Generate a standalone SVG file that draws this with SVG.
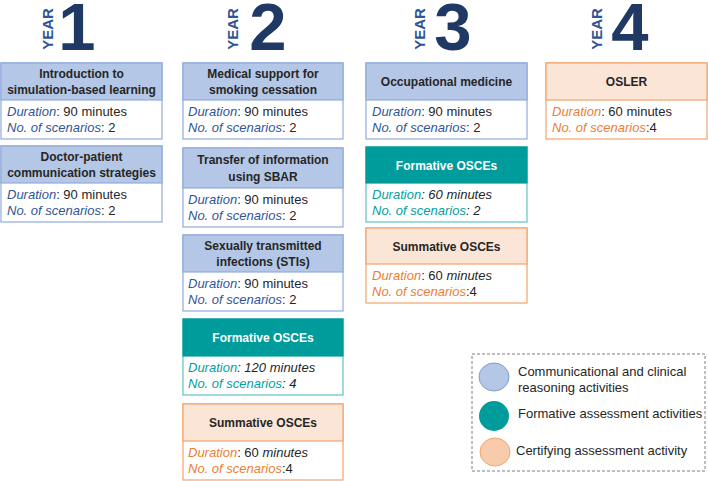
<svg xmlns="http://www.w3.org/2000/svg" width="708" height="481" viewBox="0 0 708 481">
<style>
text{font-family:"Liberation Sans",Arial,sans-serif}
.num{font-size:67px;font-weight:bold;fill:#1f3864;text-anchor:middle}
.yr{font-size:15px;font-weight:bold;fill:#2f5597;text-anchor:middle}
.hd{font-size:12px;font-weight:bold;fill:#262626;text-anchor:middle}
.hdw{font-size:12px;font-weight:bold;fill:#ffffff;text-anchor:middle}
.bd{font-size:13px;fill:#262626}
.bd .l{font-style:italic}
.blue .l{fill:#2f5597}
.teal .l{fill:#00a0a0}
.org .l{fill:#ed7d31}
.i{font-style:italic}
.bx-b{fill:#fff;stroke:#8faadc;stroke-width:1.2}
.hb-b{fill:#b4c7e7;stroke:#8faadc;stroke-width:1.2}
.bx-t{fill:#fff;stroke:#5ec4c4;stroke-width:1.2}
.hb-t{fill:#009b9b;stroke:#009b9b;stroke-width:1.2}
.bx-o{fill:#fff;stroke:#f4a46c;stroke-width:1.2}
.hb-o{fill:#fbe5d6;stroke:#f4a46c;stroke-width:1.2}
.lg{font-size:13px;fill:#262626}
</style>
<rect width="708" height="481" fill="#fff"/>

<g id="year1-title">
<text class="yr" transform="translate(53,29) rotate(-90)">YEAR</text>
<text class="num" x="77" y="50">1</text>
</g>
<g id="year2-title">
<text class="yr" transform="translate(238,29) rotate(-90)">YEAR</text>
<text class="num" x="268" y="50">2</text>
</g>
<g id="year3-title">
<text class="yr" transform="translate(425,29) rotate(-90)">YEAR</text>
<text class="num" x="453" y="50">3</text>
</g>
<g id="year4-title">
<text class="yr" transform="translate(602,29) rotate(-90)">YEAR</text>
<text class="num" x="630" y="50">4</text>
</g>

<g id="y1-intro" class="blue">
<rect class="bx-b" x="1" y="63" width="161" height="76"/>
<rect class="hb-b" x="1" y="63" width="161" height="37"/>
<text class="hd" x="81.5" y="78">Introduction to</text>
<text class="hd" x="81.5" y="94">simulation-based learning</text>
<text class="bd" x="7" y="116"><tspan class="l">Duration</tspan>: 90 minutes</text>
<text class="bd" x="7" y="132"><tspan class="l">No. of scenarios</tspan>: 2</text>
</g>
<g id="y1-comm" class="blue">
<rect class="bx-b" x="1" y="146" width="161" height="76"/>
<rect class="hb-b" x="1" y="146" width="161" height="37"/>
<text class="hd" x="81.5" y="161">Doctor-patient</text>
<text class="hd" x="81.5" y="177">communication strategies</text>
<text class="bd" x="7" y="199"><tspan class="l">Duration</tspan>: 90 minutes</text>
<text class="bd" x="7" y="215"><tspan class="l">No. of scenarios</tspan>: 2</text>
</g>

<g id="y2-smoking" class="blue">
<rect class="bx-b" x="183" y="63" width="160" height="76"/>
<rect class="hb-b" x="183" y="63" width="160" height="37"/>
<text class="hd" x="263" y="78">Medical support for</text>
<text class="hd" x="263" y="94">smoking cessation</text>
<text class="bd" x="188" y="116"><tspan class="l">Duration</tspan>: 90 minutes</text>
<text class="bd" x="188" y="132"><tspan class="l">No. of scenarios</tspan>: 2</text>
</g>
<g id="y2-sbar" class="blue">
<rect class="bx-b" x="183" y="148" width="160" height="79"/>
<rect class="hb-b" x="183" y="148" width="160" height="40"/>
<text class="hd" x="263" y="164">Transfer of information</text>
<text class="hd" x="263" y="181">using SBAR</text>
<text class="bd" x="188" y="204"><tspan class="l">Duration</tspan>: 90 minutes</text>
<text class="bd" x="188" y="220"><tspan class="l">No. of scenarios</tspan>: 2</text>
</g>
<g id="y2-sti" class="blue">
<rect class="bx-b" x="183" y="235" width="160" height="76"/>
<rect class="hb-b" x="183" y="235" width="160" height="37"/>
<text class="hd" x="263" y="250">Sexually transmitted</text>
<text class="hd" x="263" y="266">infections (STIs)</text>
<text class="bd" x="188" y="288"><tspan class="l">Duration</tspan>: 90 minutes</text>
<text class="bd" x="188" y="304"><tspan class="l">No. of scenarios</tspan>: 2</text>
</g>
<g id="y2-formative" class="teal">
<rect class="bx-t" x="183" y="319" width="160" height="76"/>
<rect class="hb-t" x="183" y="319" width="160" height="37"/>
<text class="hdw" x="263" y="342">Formative OSCEs</text>
<text class="bd i" x="188" y="372"><tspan class="l">Duration</tspan>: 120 minutes</text>
<text class="bd i" x="188" y="388"><tspan class="l">No. of scenarios</tspan>: 4</text>
</g>
<g id="y2-summative" class="org">
<rect class="bx-o" x="183" y="404" width="160" height="76"/>
<rect class="hb-o" x="183" y="404" width="160" height="37"/>
<text class="hd" x="263" y="427">Summative OSCEs</text>
<text class="bd" x="188" y="457"><tspan class="l">Duration</tspan>: 60 <tspan class="i">minutes</tspan></text>
<text class="bd" x="188" y="473"><tspan class="l">No. of scenarios</tspan>:4</text>
</g>

<g id="y3-occupational" class="blue">
<rect class="bx-b" x="366" y="63" width="161" height="76"/>
<rect class="hb-b" x="366" y="63" width="161" height="37"/>
<text class="hd" x="446.5" y="86">Occupational medicine</text>
<text class="bd" x="372" y="116"><tspan class="l">Duration</tspan>: 90 minutes</text>
<text class="bd" x="372" y="132"><tspan class="l">No. of scenarios</tspan>: 2</text>
</g>
<g id="y3-formative" class="teal">
<rect class="bx-t" x="366" y="147" width="161" height="75"/>
<rect class="hb-t" x="366" y="147" width="161" height="36"/>
<text class="hdw" x="446.5" y="170">Formative OSCEs</text>
<text class="bd i" x="372" y="199"><tspan class="l">Duration</tspan>: 60 minutes</text>
<text class="bd i" x="372" y="215"><tspan class="l">No. of scenarios</tspan>: 2</text>
</g>
<g id="y3-summative" class="org">
<rect class="bx-o" x="366" y="228" width="161" height="75"/>
<rect class="hb-o" x="366" y="228" width="161" height="36"/>
<text class="hd" x="446.5" y="251">Summative OSCEs</text>
<text class="bd" x="372" y="280"><tspan class="l">Duration</tspan>: 60 <tspan class="i">minutes</tspan></text>
<text class="bd" x="372" y="296"><tspan class="l">No. of scenarios</tspan>:4</text>
</g>

<g id="y4-osler" class="org">
<rect class="bx-o" x="546" y="63" width="161" height="76"/>
<rect class="hb-o" x="546" y="63" width="161" height="37"/>
<text class="hd" x="626.5" y="86">OSLER</text>
<text class="bd" x="552" y="116"><tspan class="l">Duration</tspan>: 60 minutes</text>
<text class="bd" x="552" y="132"><tspan class="l">No. of scenarios</tspan>:4</text>
</g>

<g id="legend">
<rect x="472" y="354" width="233" height="117" fill="none" stroke="#7f7f7f" stroke-width="1" stroke-dasharray="3,2"/>
<ellipse cx="494" cy="377" rx="15" ry="14" fill="#b4c7e7" stroke="#7f9fd0" stroke-width="1"/>
<ellipse cx="494" cy="416" rx="15" ry="15" fill="#009b9b"/>
<ellipse cx="495" cy="452" rx="15" ry="14" fill="#f8cbad" stroke="#f4a46c" stroke-width="1"/>
<text class="lg" x="518" y="376">Communicational and clinical</text>
<text class="lg" x="518" y="392">reasoning activities</text>
<text class="lg" x="518" y="418">Formative assessment activities</text>
<text class="lg" x="516" y="455">Certifying assessment activity</text>
</g>
</svg>
